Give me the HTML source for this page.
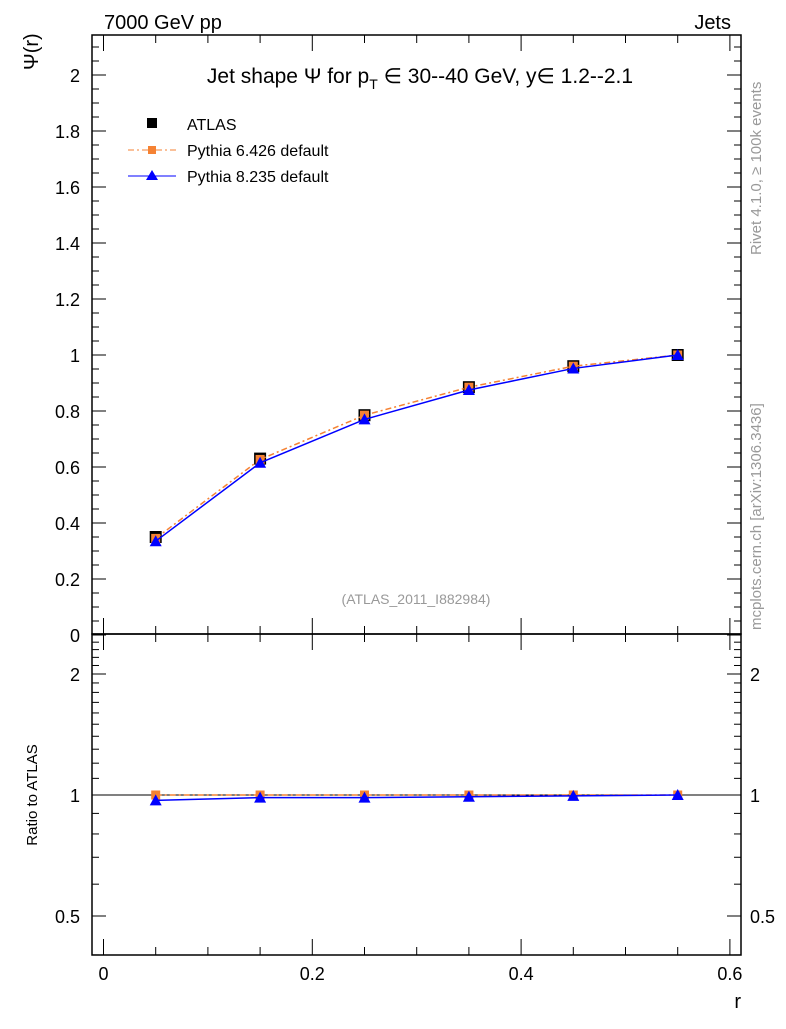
<!DOCTYPE html>
<html><head><meta charset="utf-8"><style>
body{margin:0;background:#fff;}
svg{font-family:"Liberation Sans",sans-serif;}
</style></head><body>
<svg id="c" width="786" height="1024" xmlns="http://www.w3.org/2000/svg">
<text x="104" y="29" font-size="20">7000 GeV pp</text>
<text x="731" y="29" font-size="20" text-anchor="end">Jets</text>
<text x="420" y="83" font-size="21" text-anchor="middle">Jet shape Ψ for p<tspan font-size="14" dy="6">T</tspan><tspan dy="-6"> ∈ 30--40 GeV, y∈ 1.2--2.1</tspan></text>
<text x="416" y="604" font-size="14" fill="#999" text-anchor="middle">(ATLAS_2011_I882984)</text>
<text transform="translate(38,70) rotate(-90)" font-size="20">Ψ(r)</text>
<text transform="translate(37,795) rotate(-90)" font-size="15" text-anchor="middle">Ratio to ATLAS</text>
<text x="741" y="1008" font-size="20" text-anchor="end">r</text>
<text transform="translate(761,255) rotate(-90)" font-size="15" fill="#999">Rivet 4.1.0, ≥ 100k events</text>
<text transform="translate(761,630) rotate(-90)" font-size="15" fill="#999">mcplots.cern.ch [arXiv:1306.3436]</text>
<g>
<rect x="147" y="118" width="10" height="10" fill="#000"/>
<text x="187" y="130" font-size="16">ATLAS</text>
<line x1="128" y1="150" x2="176" y2="150" stroke="#f58233" stroke-dasharray="6,3,2,3"/>
<rect x="148" y="146" width="8" height="8" fill="#f58233"/>
<text x="187" y="156" font-size="16">Pythia 6.426 default</text>
<line x1="128" y1="176" x2="176" y2="176" stroke="#0000ff"/>
<polygon points="152,170 158,180 146,180" fill="#0000ff"/>
<text x="187" y="182" font-size="16">Pythia 8.235 default</text>
</g>
</svg>
<script>
const rVals=[0.05,0.15,0.25,0.35,0.45,0.55];
const atlas=[0.35,0.63,0.785,0.885,0.96,1.0];
const py6=[0.345,0.627,0.785,0.885,0.96,1.0];
const py8=[0.335,0.615,0.77,0.875,0.952,1.0];
const ratio6=[1.0,1.0,1.0,1.0,1.0,1.0];
const ratio8=[0.97,0.985,0.985,0.99,0.995,1.0];
const yTicks=[0,0.2,0.4,0.6,0.8,1,1.2,1.4,1.6,1.8,2];
const yTickLabels=["0","0.2","0.4","0.6","0.8","1","1.2","1.4","1.6","1.8","2"];
const xTicks=[0,0.2,0.4,0.6];
const xTickLabels=["0","0.2","0.4","0.6"];
const rTicks=[0.5,1,2];
const rTickLabels=["0.5","1","2"];

const L=92,R=741,T=35,M=634,B=955;
const X=v=>103.5+v*1044;
const Y=v=>635-v*280;
const RY=v=>795-Math.log2(v)*121;
const svg=document.getElementById('c');
const NS="http://www.w3.org/2000/svg";
function mk(t,a,p){const e=document.createElementNS(NS,t);for(const k in a)e.setAttribute(k,a[k]);(p||svg).appendChild(e);return e;}

const frame=mk('g',{});


const f1=mk('rect',{x:L,y:T,width:R-L,height:M-T,fill:'none',stroke:'#000','stroke-width':1.5},frame);


const f2=mk('rect',{x:L,y:M,width:R-L,height:B-M,fill:'none',stroke:'#000','stroke-width':1.5},frame);



const ticks=mk('g',{stroke:'#000','stroke-width':1});


for(let v=0;v<=2.14;v+=0.05){const y=Y(v);if(y<T)break;const maj=Math.abs(v/0.2-Math.round(v/0.2))<1e-6;const len=maj?14:7;
mk('line',{x1:L,x2:L+len,y1:y,y2:y},ticks);mk('line',{x1:R,x2:R-len,y1:y,y2:y},ticks);}
yTicks.forEach((v,i)=>{const t=mk('text',{x:L-12,y:Y(v)+7,'font-size':18,'text-anchor':'end'});t.textContent=yTickLabels[i];

});
for(let v=0;v<=0.6001;v+=0.05){const x=X(v);const maj=Math.abs(v/0.2-Math.round(v/0.2))<1e-6;const len=maj?16:8;
mk('line',{x1:x,x2:x,y1:M,y2:M-len},ticks);mk('line',{x1:x,x2:x,y1:B,y2:B-len},ticks);mk('line',{x1:x,x2:x,y1:T,y2:T+len},ticks);mk('line',{x1:x,x2:x,y1:M,y2:M+len},ticks);}
xTicks.forEach((v,i)=>{const t=mk('text',{x:X(v),y:980,'font-size':18,'text-anchor':'middle'});t.textContent=xTickLabels[i];

});
for(let v=0.4;v<=2.5;v+=0.1){const y=RY(v);if(y<M||y>B)continue;const maj=rTicks.some(r=>Math.abs(r-v)<1e-6);const len=maj?14:7;
mk('line',{x1:L,x2:L+len,y1:y,y2:y},ticks);mk('line',{x1:R,x2:R-len,y1:y,y2:y},ticks);}
rTicks.forEach((v,i)=>{const t=mk('text',{x:L-12,y:RY(v)+7,'font-size':18,'text-anchor':'end'});t.textContent=rTickLabels[i];


const t2=mk('text',{x:750,y:RY(v)+7,'font-size':18});t2.textContent=rTickLabels[i];

});
const one=mk('line',{x1:L,x2:R,y1:RY(1),y2:RY(1),stroke:'#000','stroke-width':1});



function series(vals,yf,color,dash,marker,name){
const g=mk('g',{});


if(color){const pl=mk('polyline',{points:vals.map((v,i)=>X(rVals[i])+','+yf(v)).join(' '),fill:'none',stroke:color,'stroke-width':1.5,'stroke-dasharray':dash||'none'},g);

}
vals.forEach((v,i)=>{const x=X(rVals[i]),y=yf(v);let m;
if(marker==='sq')m=mk('rect',{x:x-6,y:y-6,width:12,height:12,fill:'#000'},g);
else if(marker==='osq')m=mk('rect',{x:x-4.5,y:y-4.5,width:9,height:9,fill:'#f58233'},g);
else m=mk('polygon',{points:`${x},${y-6} ${x+6},${y+5} ${x-6},${y+5}`,fill:'#0000ff'},g);

});}
series(atlas,Y,null,null,'sq','atlas-data');
series(py6,Y,'#f58233','6,3,2,3','osq','pythia6-series');
series(py8,Y,'#0000ff',null,'tri','pythia8-series');
series(ratio6,RY,'#f58233','6,3,2,3','osq','pythia6-ratio');
series(ratio8,RY,'#0000ff',null,'tri','pythia8-ratio');
</script>
</body></html>
